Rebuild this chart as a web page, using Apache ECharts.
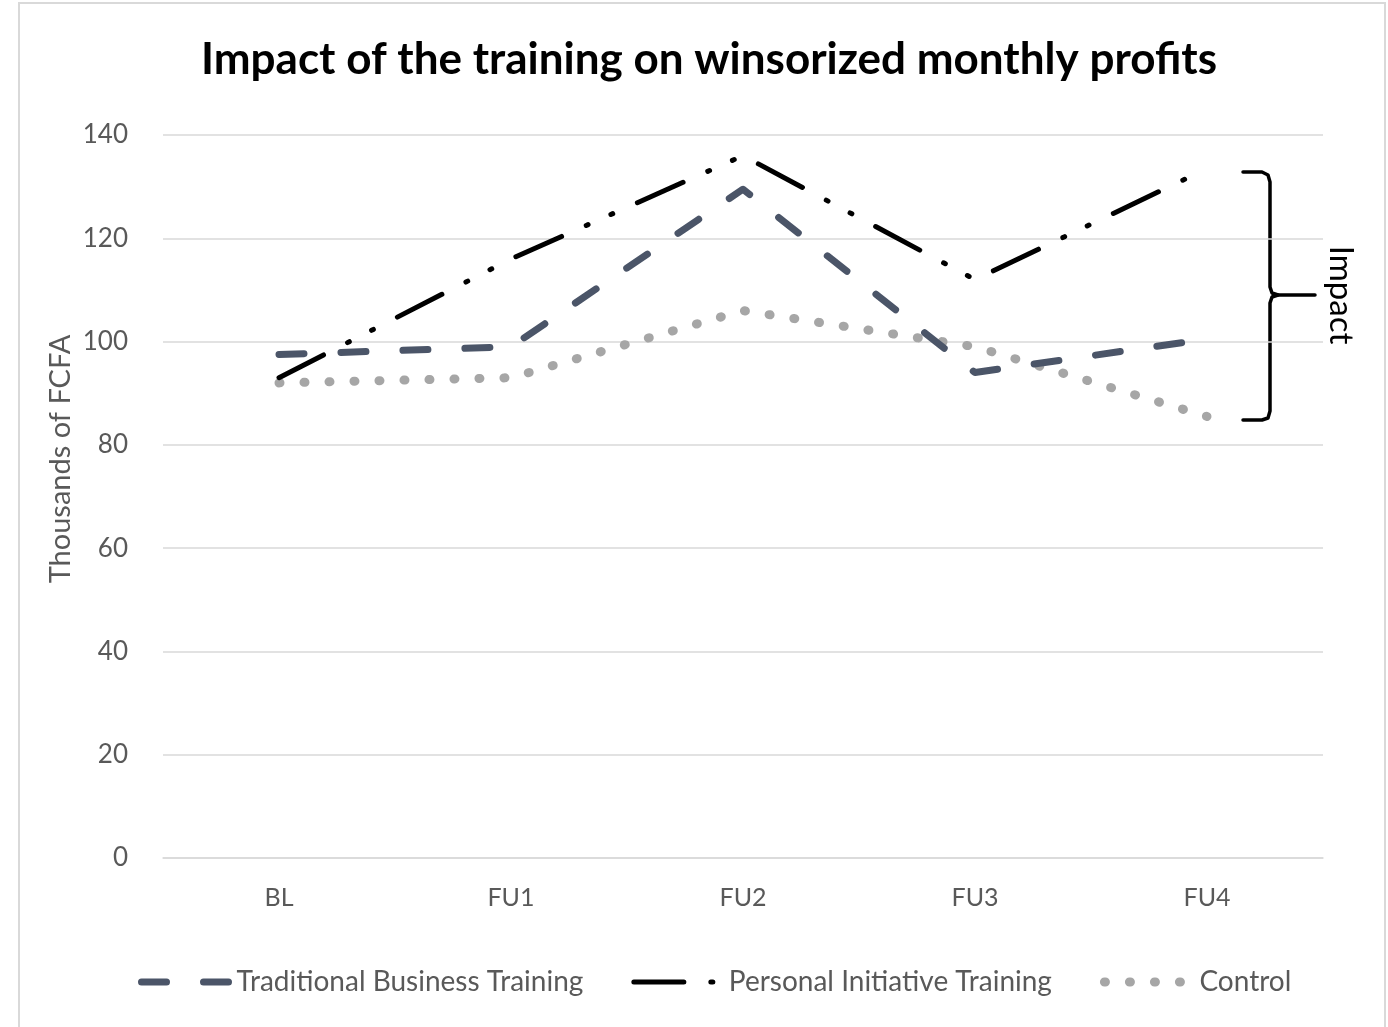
<!DOCTYPE html>
<html>
<head>
<meta charset="utf-8">
<script src="https://cdn.jsdelivr.net/npm/echarts@6/dist/echarts.min.js"></script>
<style>html,body{margin:0;padding:0;background:#fff}#c{width:1388px;height:1027px}</style>
</head>
<body>
<div id="c"></div>
<script>
var categories = ['BL', 'FU1', 'FU2', 'FU3', 'FU4'];
var traditional = [97.5, 99, 129.5, 94, 100.5];
var personal = [93, 116, 136, 112, 133.5];
var control = [92, 93, 106, 99, 85.5];
var yTicks = [0, 20, 40, 60, 80, 100, 120, 140];

var chart = echarts.init(document.getElementById('c'));
var FONT = 'Lato, "Open Sans", sans-serif';
var BR = { stroke: '#000', lineWidth: 3.5, fill: 'none', lineJoin: 'round', lineCap: 'round' };
chart.setOption({
  backgroundColor: '#fff',
  animation: false,
  title: {
    text: 'Impact of the training on winsorized monthly profits',
    left: 196, top: 33,
    textStyle: { fontFamily: FONT, fontWeight: 'bold', fontSize: 44, color: '#000' }
  },
  grid: { left: 163, right: 65, top: 135, bottom: 169 },
  legend: {
    bottom: 26, left: 133,
    itemWidth: 90, itemHeight: 14, itemGap: 48,
    itemStyle: { opacity: 0 },
    lineStyle: { width: 'inherit' },
    textStyle: { fontFamily: FONT, fontSize: 28, color: '#595959' },
    data: ['Traditional Business Training', 'Personal Initiative Training', 'Control']
  },
  xAxis: {
    type: 'category', data: categories, boundaryGap: true,
    axisLine: { lineStyle: { color: '#d9d9d9', width: 1.5 } },
    axisTick: { show: false },
    axisLabel: { margin: 27, fontFamily: FONT, fontSize: 25, color: '#595959' }
  },
  yAxis: {
    type: 'value', min: yTicks[0], max: yTicks[yTicks.length - 1], interval: 20,
    axisLine: { show: false }, axisTick: { show: false },
    axisLabel: { margin: 35, fontFamily: FONT, fontSize: 26, color: '#595959' },
    splitLine: { lineStyle: { color: '#d9d9d9', width: 1.5 } }
  },
  series: [
    {
      name: 'Traditional Business Training', type: 'line', data: traditional,
      symbol: 'none', z: 3,
      itemStyle: { color: '#4b5568' },
      lineStyle: { color: '#4b5568', width: 7, type: [25, 37], cap: 'round', join: 'round' }
    },
    {
      name: 'Personal Initiative Training', type: 'line', data: personal,
      symbol: 'none', z: 4,
      itemStyle: { color: '#000' },
      lineStyle: { color: '#000', width: 5, type: [50, 27, 2, 25, 2, 27], cap: 'round', join: 'round' }
    },
    {
      name: 'Control', type: 'line', data: control,
      symbol: 'none', z: 2,
      itemStyle: { color: '#a6a6a6' },
      lineStyle: { color: '#a6a6a6', width: 9, type: [1, 24], cap: 'round', join: 'round' }
    }
  ],
  graphic: [
    { type: 'rect', shape: { x: 19, y: 3, width: 1366, height: 1030 }, style: { fill: 'none', stroke: '#d9d9d9', lineWidth: 2 }, silent: true },
    { type: 'text', x: 61, y: 459, rotation: Math.PI / 2,
      style: { text: 'Thousands of FCFA', fontFamily: FONT, fontSize: 29, fill: '#595959', align: 'center', verticalAlign: 'middle' } },
    { type: 'polyline', shape: { points: [[1243,172],[1262,172],[1268,175],[1270,182],[1270,287],[1272,293],[1278,295],[1315,295]] }, style: BR, silent: true },
    { type: 'polyline', shape: { points: [[1278,295],[1272,297],[1270,303],[1270,411],[1268,418],[1262,420],[1243,420]] }, style: BR, silent: true },
    { type: 'text', x: 1341, y: 295, rotation: -Math.PI / 2,
      style: { text: 'Impact', fontFamily: FONT, fontSize: 33, fill: '#000', align: 'center', verticalAlign: 'middle' } }
  ]
});
</script>
</body>
</html>
